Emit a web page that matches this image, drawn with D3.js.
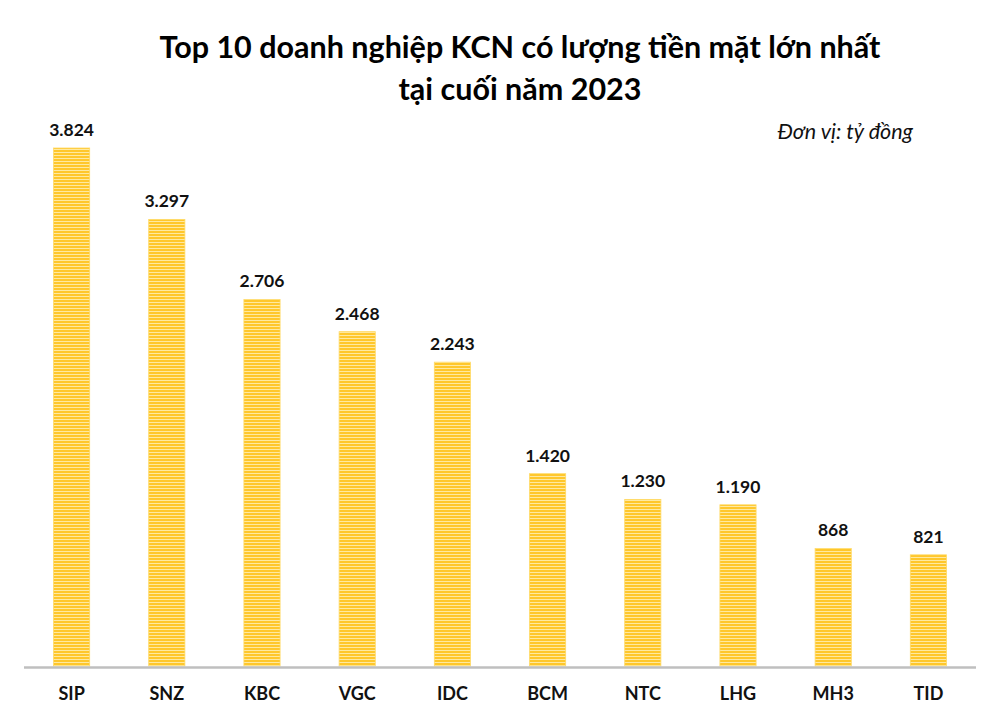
<!DOCTYPE html>
<html>
<head>
<meta charset="utf-8">
<script src="https://cdn.jsdelivr.net/npm/d3@7"></script>
<style>
  body { margin: 0; background: #fff; }
  svg { display: block; }
</style>
</head>
<body>
<div id="chart"></div>
<script>
var w = 1000;
var h = 718;

var categories = ["SIP", "SNZ", "KBC", "VGC", "IDC", "BCM", "NTC", "LHG", "MH3", "TID"];
var values = [3824, 3297, 2706, 2468, 2243, 1420, 1230, 1190, 868, 821];
var valueLabels = ["3.824", "3.297", "2.706", "2.468", "2.243", "1.420", "1.230", "1.190", "868", "821"];

var baseY = 666;

var svg = d3.select("#chart").append("svg")
  .attr("width", w)
  .attr("height", h);

// striped fill like the original
var pat = svg.append("defs").append("pattern")
  .attr("id", "stripes")
  .attr("patternUnits", "userSpaceOnUse")
  .attr("width", 10)
  .attr("height", 3);
pat.append("rect").attr("width", 10).attr("height", 3).attr("fill", "#FFC72C");
pat.append("rect").attr("y", 2).attr("width", 10).attr("height", 1).attr("fill", "#FFE9A0");

var x = d3.scaleBand()
  .domain(categories)
  .range([24, 976])
  .paddingInner(0.62)
  .paddingOuter(0.31);

var y = d3.scaleLinear()
  .domain([0, 3824])
  .range([baseY, 148]);

svg.selectAll("rect.bar")
  .data(values)
  .enter()
  .append("rect")
  .attr("class", "bar")
  .attr("x", function(d, i) { return x(categories[i]); })
  .attr("y", function(d) { return y(d); })
  .attr("width", x.bandwidth())
  .attr("height", function(d) { return baseY - y(d); })
  .attr("fill", "url(#stripes)")
  .attr("stroke", "#FFDA66")
  .attr("stroke-width", 0.8);

// value labels
svg.selectAll("text.val")
  .data(values)
  .enter()
  .append("text")
  .attr("class", "val")
  .text(function(d, i) { return valueLabels[i]; })
  .attr("x", function(d, i) { return x(categories[i]) + x.bandwidth() / 2; })
  .attr("y", function(d) { return y(d) - 12; })
  .attr("text-anchor", "middle")
  .attr("font-family", "Lato, sans-serif")
  .attr("font-weight", "bold")
  .attr("font-size", 17.5)
  .attr("fill", "#111");

// x axis
var xAxis = svg.append("g")
  .attr("transform", "translate(0," + baseY + ")")
  .call(d3.axisBottom(x).tickSize(0).tickPadding(21));
xAxis.select(".domain")
  .attr("d", "M24,1.5H976")
  .attr("stroke", "#BFBFBF")
  .attr("stroke-width", 2.5);
xAxis.selectAll("text")
  .attr("font-family", "Lato, sans-serif")
  .attr("font-weight", "bold")
  .attr("font-size", 18)
  .attr("fill", "#111");

// title
var title = svg.append("text")
  .attr("text-anchor", "middle")
  .attr("font-family", "Lato, sans-serif")
  .attr("font-weight", "bold")
  .attr("font-size", 30.5)
  .attr("fill", "#000");
title.append("tspan").attr("x", 520).attr("y", 58).text("Top 10 doanh nghiệp KCN có lượng tiền mặt lớn nhất");
title.append("tspan").attr("x", 520).attr("y", 100).text("tại cuối năm 2023");

svg.append("text")
  .attr("x", 913)
  .attr("y", 139)
  .attr("text-anchor", "end")
  .attr("font-family", "Lato, sans-serif")
  .attr("font-style", "italic")
  .attr("font-size", 21.5)
  .attr("fill", "#111")
  .text("Đơn vị: tỷ đồng");
</script>
</body>
</html>
